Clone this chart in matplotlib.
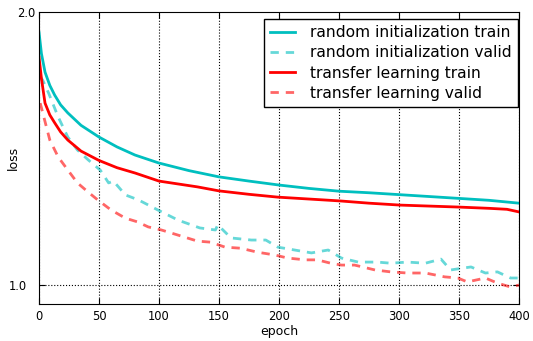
import matplotlib
matplotlib.use('Agg')
import matplotlib.pyplot as plt
from matplotlib.ticker import FixedLocator, FixedFormatter

# training curves (log-scale loss)
rand_train_ep = [0, 2, 5, 9, 13, 18, 24, 35, 50, 65, 80, 100, 125, 150, 175, 200,
                 225, 250, 275, 300, 325, 350, 375, 400]
rand_train = [1.90, 1.80, 1.717, 1.66, 1.62, 1.58, 1.548, 1.50, 1.456, 1.42, 1.391,
              1.363, 1.337, 1.316, 1.302, 1.289, 1.278, 1.269, 1.264, 1.258, 1.252,
              1.246, 1.240, 1.231]

tl_train_ep = [0, 2, 5, 9, 13, 18, 24, 35, 50, 65, 80, 100, 132, 150, 175, 199,
               225, 251, 275, 301, 325, 349, 375, 390, 400]
tl_train = [1.784, 1.69, 1.587, 1.54, 1.51, 1.475, 1.445, 1.405, 1.372, 1.347, 1.329,
            1.302, 1.283, 1.270, 1.259, 1.250, 1.244, 1.238, 1.231, 1.225, 1.222,
            1.219, 1.215, 1.212, 1.204]

rand_valid_ep = [1, 3, 8, 16, 24, 32, 41, 51, 58, 62, 72, 83, 99, 116, 127, 134, 147,
                 149, 160, 177, 189, 199, 213, 227, 241, 252, 266, 282, 293, 307, 322,
                 335, 343, 360, 372, 382, 393, 400]
rand_valid = [1.696, 1.683, 1.628, 1.532, 1.456, 1.409, 1.374, 1.339, 1.296, 1.302,
              1.257, 1.241, 1.210, 1.179, 1.165, 1.156, 1.150, 1.165, 1.127, 1.121,
              1.121, 1.101, 1.093, 1.085, 1.093, 1.071, 1.060, 1.060, 1.057, 1.060,
              1.057, 1.068, 1.039, 1.047, 1.031, 1.034, 1.018, 1.018]

tl_valid_ep = [1, 9, 16, 24, 32, 41, 49, 60, 72, 82, 91, 102, 116, 132, 143, 155, 168,
               182, 197, 207, 222, 232, 243, 252, 263, 280, 293, 307, 322, 338, 349,
               357, 372, 382, 393, 400]
tl_valid = [1.587, 1.445, 1.384, 1.339, 1.296, 1.266, 1.241, 1.210, 1.185, 1.174,
            1.159, 1.150, 1.135, 1.118, 1.115, 1.101, 1.098, 1.087, 1.079, 1.071,
            1.066, 1.066, 1.057, 1.052, 1.052, 1.039, 1.034, 1.031, 1.031, 1.021,
            1.018, 1.008, 1.018, 1.005, 0.995, 1.000]

fig = plt.figure(figsize=(5.33, 3.41), dpi=100)
ax = fig.add_axes([0.0732, 0.1085, 0.9005, 0.8563])

ax.plot(rand_train_ep, rand_train, color='c', lw=2, label='random initialization train')
ax.plot(rand_valid_ep, rand_valid, color='c', lw=2, alpha=0.6, dashes=(3, 2.5),
        label='random initialization valid')
ax.plot(tl_train_ep, tl_train, color='r', lw=2, label='transfer learning train')
ax.plot(tl_valid_ep, tl_valid, color='r', lw=2, alpha=0.6, dashes=(3, 2.5),
        label='transfer learning valid')

ax.set_yscale('log')
ax.set_xlim(0, 400)
ax.set_ylim(0.953, 2.0)
# 1.0 is the log major tick, 2.0 a minor one (label sits closer to the axis)
ax.yaxis.set_major_locator(FixedLocator([1.0]))
ax.yaxis.set_major_formatter(FixedFormatter(['1.0']))
ax.yaxis.set_minor_locator(FixedLocator([2.0]))
ax.yaxis.set_minor_formatter(FixedFormatter(['2.0']))
ax.set_xticks(range(0, 401, 50))
ax.tick_params(which='both', direction='in', top=True, right=True, labelsize=8.3)
ax.tick_params(axis='x', length=4, pad=4)
ax.tick_params(axis='y', which='major', length=4, pad=9)
ax.tick_params(axis='y', which='minor', length=2, pad=2.5)
ax.grid(True, color='k', linestyle=':', linewidth=0.8)

ax.set_xlabel('epoch', fontsize=9, labelpad=2)
ax.set_ylabel('loss', fontsize=9)
ax.yaxis.set_label_coords(-0.040, 0.5)

leg = ax.legend(loc='upper right', bbox_to_anchor=(0.998, 0.976), borderaxespad=0,
                fontsize=11.2, fancybox=False, framealpha=1, handlelength=1.6,
                handletextpad=1.0, labelspacing=0.33)
leg.get_frame().set_edgecolor('k')
leg.get_frame().set_linewidth(1)

fig.savefig('out.png', dpi=100)
